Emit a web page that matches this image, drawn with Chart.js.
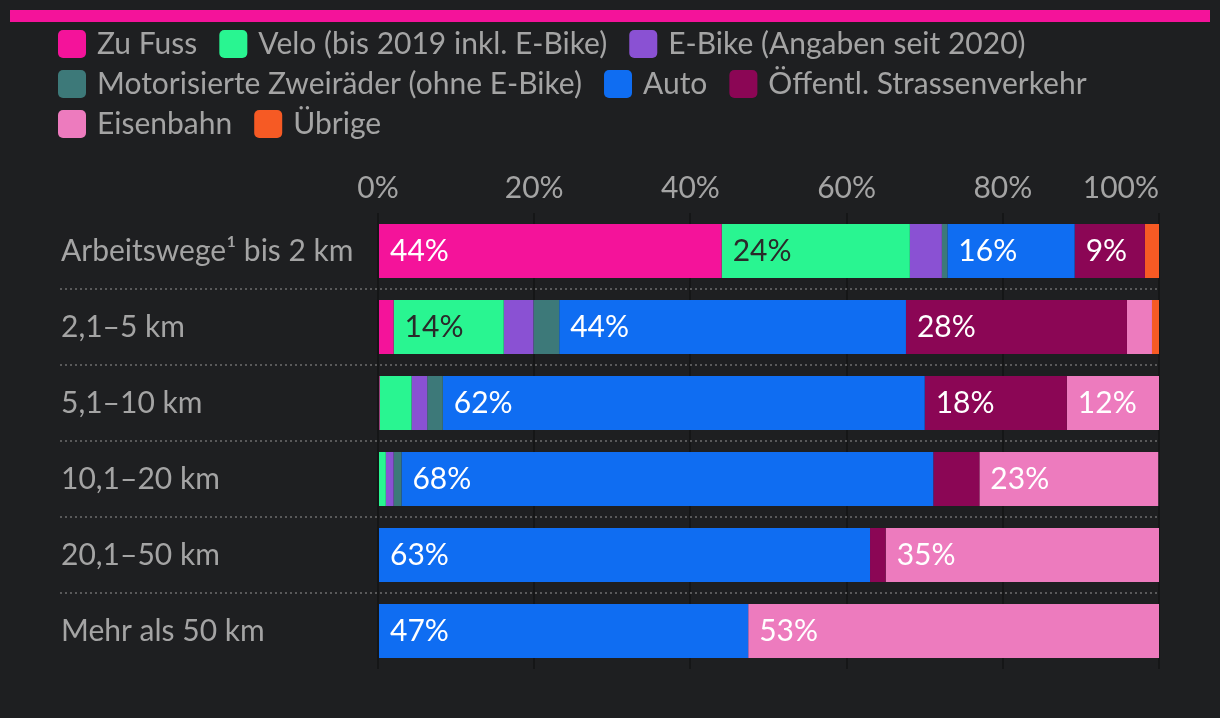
<!DOCTYPE html>
<html>
<head>
<meta charset="utf-8">
<script src="https://cdn.jsdelivr.net/npm/chart.js@4"></script>
<style>
  html, body { margin: 0; padding: 0; background: #1e1f21; }
  #wrap { position: relative; width: 1220px; height: 718px; }
  #topline { position: absolute; left: 10px; top: 10px; width: 1200px; height: 12px; background: #f4139a; }
  canvas { position: absolute; left: 0; top: 0; }
</style>
</head>
<body>
<div id="wrap">
  <div id="topline"></div>
  <canvas id="chart" width="1220" height="718"></canvas>
</div>
<script>
// Distanzklassen (Kategorien)
var categories = ['Arbeitswege\u00b9 bis 2 km', '2,1\u20135 km', '5,1\u201310 km', '10,1\u201320 km', '20,1\u201350 km', 'Mehr als 50 km'];

// Anteile in % je Verkehrsmittel
var zuFuss   = [44.0,  2.0,  0.2,  0.0,  0.0,  0.0];
var velo     = [24.1, 14.1,  4.1,  1.0,  0.0,  0.0];
var eBike    = [ 4.1,  3.8,  2.0,  1.0,  0.0,  0.0];
var motorrad = [ 0.7,  3.3,  2.0,  1.0,  0.0,  0.0];
var auto     = [16.3, 44.4, 61.7, 68.1, 63.0, 47.4];
var oev      = [ 9.0, 28.3, 18.2,  5.9,  2.0,  0.0];
var bahn     = [ 0.0,  3.2, 11.8, 22.9, 35.0, 52.6];
var uebrige  = [ 1.8,  0.9,  0.0,  0.0,  0.0,  0.0];

var xTicks = [0, 20, 40, 60, 80, 100];

var seriesNames = ['Zu Fuss', 'Velo (bis 2019 inkl. E-Bike)', 'E-Bike (Angaben seit 2020)',
  'Motorisierte Zweir\u00e4der (ohne E-Bike)', 'Auto', '\u00d6ffentl. Strassenverkehr', 'Eisenbahn', '\u00dcbrige'];
var seriesData = [zuFuss, velo, eBike, motorrad, auto, oev, bahn, uebrige];
var seriesColors = ['#f4139a', '#29f591', '#8a51d3', '#3d7979', '#0f6df2', '#8b0655', '#ed7bbe', '#f65a24'];
var labelColors = ['#ffffff', '#2a2a2a', '#ffffff', '#ffffff', '#ffffff', '#ffffff', '#ffffff', '#ffffff'];

var FONT = 'Lato';
var SIZE = 30;
var GREY = '#a4a4a4';

var datasets = seriesNames.map(function (name, i) {
  return {
    label: name,
    data: seriesData[i],
    backgroundColor: seriesColors[i],
    borderWidth: 0,
    categoryPercentage: 1,
    barPercentage: 0.71
  };
});

// Legende oben, fliessend umbrochen
var flowLegend = {
  id: 'flowLegend',
  afterDraw: function (chart) {
    var ctx = chart.ctx;
    var left = 58, x = left, y = 30, maxX = 1200;
    ctx.save();
    ctx.font = SIZE + 'px ' + FONT;
    ctx.textBaseline = 'middle';
    ctx.textAlign = 'left';
    chart.data.datasets.forEach(function (ds) {
      var w = 28 + 11 + ctx.measureText(ds.label).width;
      if (x > left && x + w > maxX) { x = left; y += 40; }
      ctx.fillStyle = ds.backgroundColor;
      ctx.beginPath();
      ctx.roundRect(x, y, 28, 28, 5);
      ctx.fill();
      ctx.fillStyle = GREY;
      ctx.fillText(ds.label, x + 39, y + 14);
      x += w + 22;
    });
    ctx.restore();
  }
};

// x-Achsenbeschriftung: letzte Marke buendig rechts
var xLabels = {
  id: 'xLabels',
  afterDraw: function (chart) {
    var ctx = chart.ctx, xs = chart.scales.x, area = chart.chartArea;
    ctx.save();
    ctx.font = SIZE + 'px ' + FONT;
    ctx.textBaseline = 'middle';
    ctx.fillStyle = GREY;
    xTicks.forEach(function (v, i) {
      var last = i === xTicks.length - 1;
      ctx.textAlign = last ? 'right' : 'center';
      ctx.fillText(v + '%', last ? area.right : xs.getPixelForValue(v), area.top - 25);
    });
    ctx.restore();
  }
};

// gepunktete Trennlinien zwischen den Zeilen
var separators = {
  id: 'separators',
  beforeDatasetsDraw: function (chart) {
    var ctx = chart.ctx, y = chart.scales.y;
    ctx.save();
    ctx.strokeStyle = '#6e6e6e';
    ctx.lineWidth = 1.5;
    ctx.setLineDash([2, 3]);
    for (var i = 0; i < categories.length - 1; i++) {
      var yy = Math.round((y.getPixelForValue(i) + y.getPixelForValue(i + 1)) / 2);
      ctx.beginPath();
      ctx.moveTo(60, yy);
      ctx.lineTo(chart.chartArea.right, yy);
      ctx.stroke();
    }
    ctx.restore();
  }
};

// Prozentwerte in den Balken
var barLabels = {
  id: 'barLabels',
  afterDraw: function (chart) {
    var ctx = chart.ctx;
    ctx.save();
    ctx.font = SIZE + 'px ' + FONT;
    ctx.textBaseline = 'middle';
    ctx.textAlign = 'left';
    chart.data.datasets.forEach(function (ds, i) {
      chart.getDatasetMeta(i).data.forEach(function (bar, j) {
        var v = ds.data[j];
        if (v < 8) return;
        ctx.fillStyle = labelColors[i];
        ctx.fillText(Math.round(v) + '%', Math.min(bar.x, bar.base) + 11, bar.y);
      });
    });
    ctx.restore();
  }
};

new Chart(document.getElementById('chart'), {
  type: 'bar',
  data: { labels: categories, datasets: datasets },
  plugins: [flowLegend, xLabels, separators, barLabels],
  options: {
    indexAxis: 'y',
    responsive: false,
    animation: false,
    layout: { padding: { top: 150, left: 61, right: 61, bottom: 49 } },
    plugins: {
      legend: { display: false },
      tooltip: { enabled: false }
    },
    scales: {
      x: {
        position: 'top',
        stacked: true,
        min: 0,
        max: 100,
        z: 1,
        afterBuildTicks: function (scale) {
          scale.ticks = xTicks.map(function (v) { return { value: v }; });
        },
        afterFit: function (scale) { scale.height = 63; },
        ticks: { display: false },
        grid: { color: 'rgba(0,0,0,0.28)', lineWidth: 2, drawTicks: false },
        border: { display: false }
      },
      y: {
        stacked: true,
        afterFit: function (scale) { scale.width = 317; },
        ticks: {
          color: GREY,
          font: { family: FONT, size: SIZE },
          crossAlign: 'far',
          padding: 20
        },
        grid: { display: false },
        border: { display: false }
      }
    }
  }
});
</script>
</body>
</html>
